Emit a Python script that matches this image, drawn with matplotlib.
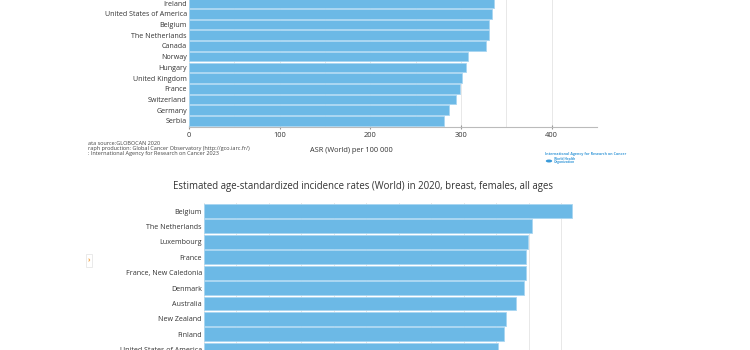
import matplotlib.pyplot as plt
from matplotlib.patches import Rectangle, Circle

plt.rcParams['font.family'] = ['Open Sans', 'DejaVu Sans']

# top chart (partly cut off at the top of the page)
top_countries = ['Serbia', 'Germany', 'Switzerland', 'France', 'United Kingdom', 'Hungary',
                 'Norway', 'Canada', 'The Netherlands', 'Belgium', 'United States of America', 'Ireland']
top_values = [281.5, 286.6, 295.0, 298.4, 301.3, 305.6, 308.0, 328.0, 330.8, 331.4, 333.7, 336.0]

# bottom chart: breast, females
bot_countries = ['Belgium', 'The Netherlands', 'Luxembourg', 'France', 'France, New Caledonia',
                 'Denmark', 'Australia', 'New Zealand', 'Finland', 'United States of America']
bot_values = [113.2, 100.9, 99.9, 99.2, 99.1, 98.5, 96.1, 93.0, 92.4, 90.4]

bar_col = '#6cb9e6'
edge_col = '#a9d6f1'
txt_col = '#333333'
grid_col = '#e8e8e8'

fig = plt.figure(figsize=(7.5, 3.5), dpi=100)

# ---- top chart
ax1 = fig.add_axes([189/750, (350-127)/350, 408/750, 127/350])
ax1.barh(range(len(top_countries)), top_values, height=0.9, color=bar_col,
         edgecolor=edge_col, linewidth=0.6, zorder=2)
ax1.set_yticks(range(len(top_countries)))
ax1.set_yticklabels(top_countries)
ax1.set_ylim(-0.56, 11.28)
ax1.set_xlim(0, 450)
ax1.set_xticks([0, 100, 200, 300, 400])
ax1.set_xticks([50, 150, 250, 350], minor=True)
ax1.grid(axis='x', which='both', color=grid_col, linewidth=0.7, zorder=0)
for s in ['top', 'right', 'left']:
    ax1.spines[s].set_visible(False)
ax1.spines['bottom'].set_color('#bbbbbb')
ax1.tick_params(axis='y', length=0, pad=1.5, labelsize=5.1, labelcolor=txt_col)
ax1.tick_params(axis='x', which='major', direction='inout', length=3, color='#999999',
                labelsize=5.4, labelcolor=txt_col, pad=2)
ax1.tick_params(axis='x', which='minor', length=0)
fig.text(351/750, 1-150/350, 'ASR (World) per 100 000', ha='center', va='center',
         fontsize=5.3, color=txt_col)

# footer of top chart
foot = ['ata source:GLOBOCAN 2020',
        'raph production: Global Cancer Observatory (http://gco.iarc.fr/)',
        ': International Agency for Research on Cancer 2023']
for i, line in enumerate(foot):
    fig.text(88/750, 1-(143.7+5*i)/350, line, ha='left', va='center', fontsize=4.0, color='#444444')

# IARC / WHO logo
fig.text(545/750, 1-154/350, 'International Agency for Research on Cancer', ha='left', va='center',
         fontsize=2.6, color='#3a9ad9', fontweight='bold')
fig.patches.append(Circle((549/750, 1-161/350), 3.2/750, transform=fig.transFigure,
                          facecolor='#3a9ad9', edgecolor='none'))
fig.text(554/750, 1-159.5/350, 'World Health', ha='left', va='center', fontsize=2.3,
         color='#3a9ad9', fontweight='bold')
fig.text(554/750, 1-162.5/350, 'Organization', ha='left', va='center', fontsize=2.3,
         color='#3a9ad9', fontweight='bold')

# ---- bottom chart
fig.text(363/750, 1-187/350,
         'Estimated age-standardized incidence rates (World) in 2020, breast, females, all ages',
         ha='center', va='center', fontsize=6.95, color=txt_col)

ax2 = fig.add_axes([204/750, 0, (592-204)/750, 147/350])
ax2.barh(range(len(bot_countries)), bot_values, height=0.9, color=bar_col,
         edgecolor=edge_col, linewidth=0.6, zorder=2)
ax2.set_yticks(range(len(bot_countries)))
ax2.set_yticklabels(bot_countries)
ax2.set_ylim(9.02, -0.52)
ax2.set_xlim(0, 119.5)
ax2.set_xticks(range(0, 120, 10))
ax2.grid(axis='x', color=grid_col, linewidth=0.7, zorder=0)
for s in ax2.spines.values():
    s.set_visible(False)
ax2.tick_params(axis='y', length=0, pad=1.5, labelsize=5.1, labelcolor=txt_col)
ax2.tick_params(axis='x', length=0, labelbottom=False)

# small scroll button on the left
fig.patches.append(Rectangle((86/750, 1-267/350), 6/750, 13/350, transform=fig.transFigure,
                             facecolor='white', edgecolor='#e6e6e6', linewidth=0.6))
fig.text(89/750, 1-261/350, '›', ha='center', va='center', fontsize=5, color='#f0a040',
         fontweight='bold')

fig.savefig('out.png', dpi=100)
